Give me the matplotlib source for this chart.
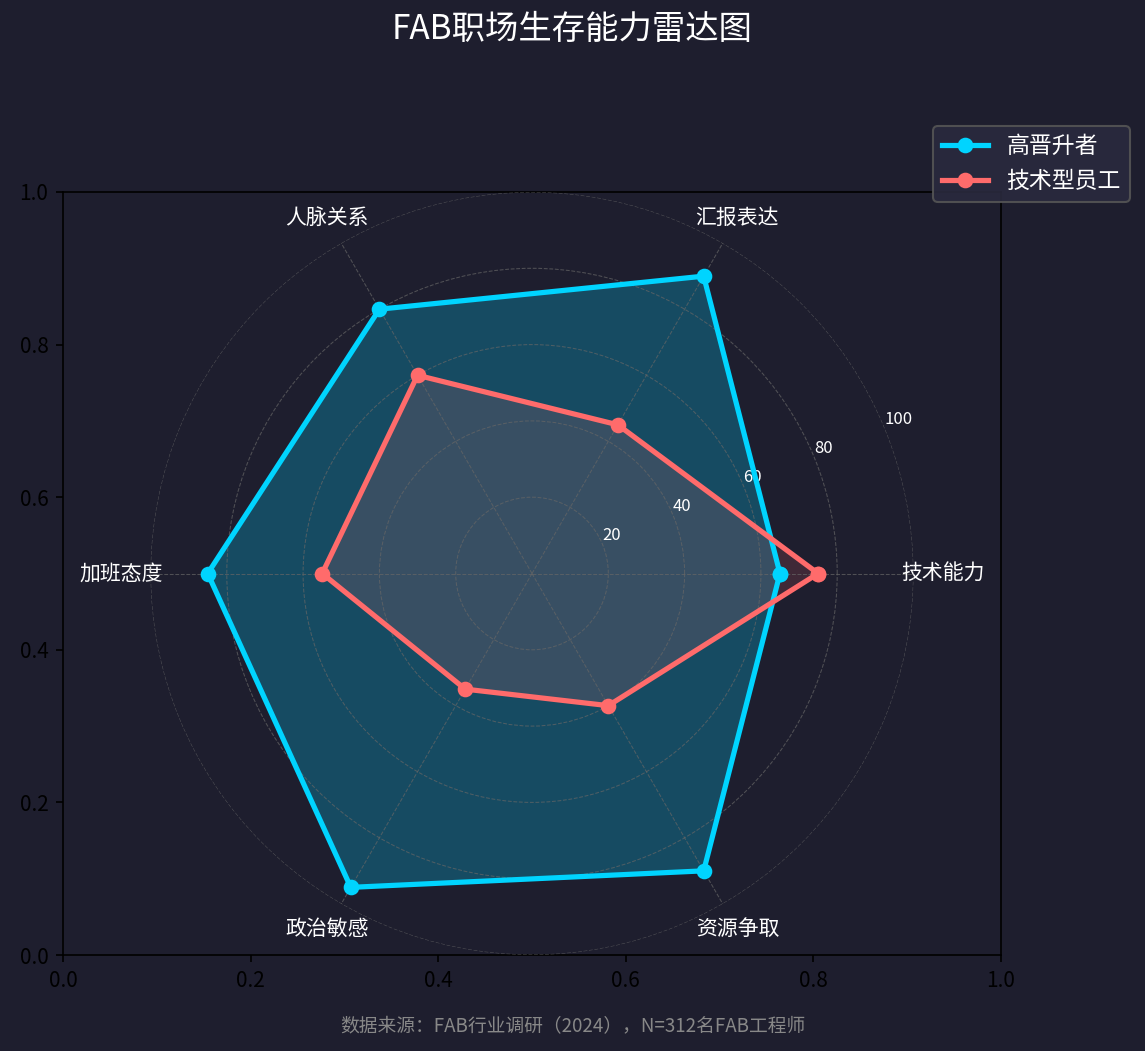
import matplotlib
matplotlib.use("Agg")
import matplotlib.pyplot as plt
import numpy as np

plt.rcParams['font.family'] = ['Noto Sans CJK SC', 'DejaVu Sans']

BG = "#1e1e2e"

categories = ["技术能力", "汇报表达", "人脉关系", "加班态度", "政治敏感", "资源争取"]
high_promo = [65, 90, 80, 85, 95, 90]
tech_staff = [75, 45, 60, 55, 35, 40]
series_names = ["高晋升者", "技术型员工"]
series_colors = ["#00d4ff", "#ff6b6b"]
r_ticks = [20, 40, 60, 80, 100]


def main():
    fig = plt.figure(figsize=(1145 / 150, 1051 / 150), dpi=150, facecolor=BG)
    rect = [63 / 1145, 96 / 1051, 938 / 1145, 763 / 1051]

    # plain cartesian axes underneath (left over from plt.subplots)
    ax = fig.add_axes(rect)
    ax.set_facecolor(BG)
    ax.tick_params(labelsize=10, colors="black")

    pax = fig.add_axes(rect, polar=True)
    pax.set_facecolor("none")
    pax.spines["polar"].set_visible(False)

    n = len(categories)
    angles = np.linspace(0, 2 * np.pi, n, endpoint=False).tolist()
    angles += angles[:1]

    alphas = [0.25, 0.15]
    for vals, name, col, a in zip([high_promo, tech_staff], series_names,
                                  series_colors, alphas):
        v = list(vals) + vals[:1]
        pax.plot(angles, v, "o-", color=col, linewidth=2.5, markersize=6.5, label=name)
        pax.fill(angles, v, color=col, alpha=a)

    pax.set_thetagrids(np.degrees(angles[:-1]), categories, fontsize=10, color="white")
    pax.set_ylim(0, 100)
    pax.set_yticks(r_ticks)
    pax.set_yticklabels([str(t) for t in r_ticks], fontsize=8, color="white")
    pax.grid(color="#666666", linestyle="--", linewidth=0.5, alpha=0.7)

    leg = pax.legend(loc="upper right", bbox_to_anchor=(1130 / 1145, 1 - 126 / 1051),
                     bbox_transform=fig.transFigure, borderaxespad=0, fontsize=11,
                     facecolor="#2a2a3e", edgecolor="#555555", labelcolor="white")
    leg.get_frame().set_alpha(0.9)

    fig.suptitle("FAB职场生存能力雷达图", fontsize=16, color="white", y=1 - 30 / 1051,
                 va="center")
    fig.text(0.5, 1 - 1027 / 1051, "数据来源：FAB行业调研（2024），N=312名FAB工程师",
             ha="center", va="center", fontsize=9, color="#888888")

    fig.savefig("out.png", dpi=150, facecolor=BG)
    plt.close(fig)


if __name__ == "__main__":
    main()
